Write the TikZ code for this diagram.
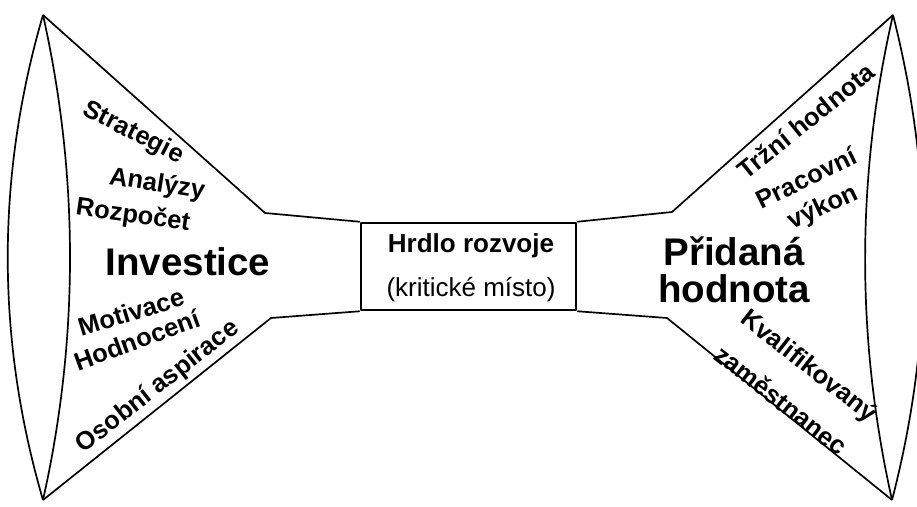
\documentclass[tikz,border=0pt]{standalone}
\usepackage{fontspec}
\setmainfont{Liberation Sans}
\usetikzlibrary{calc}

\begin{document}
\begin{tikzpicture}[x=1pt,y=1pt,line join=round,
	funnel/.style={line width=1.7pt},
	word/.style={font=\fontsize{25.5}{28}\selectfont\bfseries,inner sep=0pt},
	big/.style={font=\fontsize{38.5}{38.5}\selectfont\bfseries,inner sep=0pt,align=center}]
	\useasboundingbox (0,0) rectangle (917,506);
	% bottleneck
	\draw (468.5,239.5) node (neck) [draw,line width=2.5pt,minimum width=215pt,minimum height=87pt] {};
	\node (neckname) [word,font=\fontsize{26}{28}\selectfont\bfseries] at (471,260) {Hrdlo rozvoje};
	\node (necknote) [word,font=\fontsize{26}{28}\selectfont] at (471,216) {(kritické místo)};
	% left funnel
	\coordinate (ltop) at (43,491);
	\coordinate (lbot) at (43,6);
	\coordinate (lknee1) at (265,293);
	\coordinate (lknee2) at (271,188);
	\draw[funnel] (neck.north west) -- (lknee1) -- (ltop);
	\draw[funnel] (neck.south west) -- (lknee2) -- (lbot);
	\draw[funnel] (ltop) .. controls (-4,330) and (-4,167) .. (lbot);
	\draw[funnel] (ltop) .. controls (79,330) and (79,167) .. (lbot);
	% right funnel
	\coordinate (rtop) at (893,491);
	\coordinate (rbot) at (892,6);
	\coordinate (rknee1) at (672,294);
	\coordinate (rknee2) at (667,188);
	\draw[funnel] (neck.north east) -- (rknee1) -- (rtop);
	\draw[funnel] (neck.south east) -- (rknee2) -- (rbot);
	\draw[funnel] (rtop) .. controls (934,330) and (934,167) .. (rbot);
	\draw[funnel] (rtop) .. controls (856,330) and (856,167) .. (rbot);
	% inputs
	\node (strat) [word,rotate=-27] at (133,373) {Strategie};
	\node (anal) [word,rotate=-9] at (157,321) {Analýzy};
	\node (budget) [word,rotate=-8] at (133,290) {Rozpočet};
	\node (invest) [big] at (188,244) {Investice};
	\node (motiv) [word,rotate=17] at (131,194) {Motivace};
	\node (eval) [word,rotate=20] at (137,166) {Hodnocení};
	\node (aspir) [word,rotate=38] at (158,119) {Osobní aspirace};
	% outputs
	\node (market) [word,rotate=39] at (806,385) {Tržní hodnota};
	\node (work1) [word,rotate=26] at (806,328) {Pracovní};
	\node (work2) [word,rotate=25] at (823,298) {výkon};
	\node (added) [big] at (734,236) {Přidaná\\[-1pt]hodnota};
	\node (qual1) [word,rotate=-38] at (808,139) {Kvalifikovaný};
	\node (qual2) [word,rotate=-38] at (781,106) {zaměstnanec};
\end{tikzpicture}
\end{document}
